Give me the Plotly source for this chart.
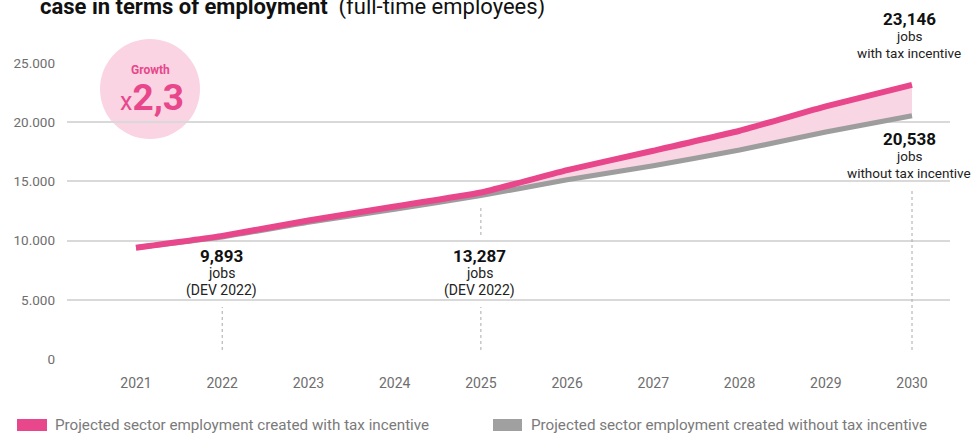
import plotly.graph_objects as go

# ---- data -------------------------------------------------------------
years = [2021, 2022, 2023, 2024, 2025, 2026, 2027, 2028, 2029, 2030]
with_incentive = [9400, 10400, 11700, 12880, 14060, 15950, 17590, 19280, 21330, 23146]
without_incentive = [9400, 10300, 11550, 12650, 13800, 15140, 16320, 17650, 19170, 20538]

y_ticks = [0, 5000, 10000, 15000, 20000, 25000]

ref_years = [2022, 2025]
ref_values = ["9,893", "13,287"]
ref_source = "(DEV 2022)"

end_with_label = "23,146"
end_without_label = "20,538"
growth_label = "2,3"

legend_labels = [
    "Projected sector employment created with tax incentive",
    "Projected sector employment created without tax incentive",
]

# ---- style ------------------------------------------------------------
PINK = "#e8478b"
PINK_FILL = "#f9d6e4"
CIRCLE = "#fad4e3"
GREY = "#9d9d9d"
GRID = "#d9d9d9"
TICK = "#6e6e6e"
FONT = "Roboto, Liberation Sans, sans-serif"

W, H = 971, 435
L, R, T, B = 67, 950, 63, 359


def px(x):
    return (x - L) / (R - L)


def py(y):
    return (B - y) / (B - T)


fig = go.Figure()

# band between the two projections
fig.add_trace(go.Scatter(x=years, y=without_incentive, mode="lines",
                         line=dict(width=0, color=GREY, shape="spline", smoothing=0.4),
                         hoverinfo="skip", showlegend=False))
fig.add_trace(go.Scatter(x=years, y=with_incentive, mode="lines",
                         line=dict(width=0, color=PINK, shape="spline", smoothing=0.4),
                         fill="tonexty", fillcolor=PINK_FILL,
                         hoverinfo="skip", showlegend=False))
# projection lines
fig.add_trace(go.Scatter(x=years, y=without_incentive, mode="lines",
                         line=dict(width=5, color=GREY, shape="spline", smoothing=0.4),
                         name=legend_labels[1], showlegend=False))
fig.add_trace(go.Scatter(x=years, y=with_incentive, mode="lines",
                         line=dict(width=6, color=PINK, shape="spline", smoothing=0.4),
                         name=legend_labels[0], showlegend=False))

shapes = []
annotations = []

# growth bubble
cx, cy, r = 150, 89, 50
shapes.append(dict(type="circle", xref="paper", yref="paper", layer="below",
                   x0=px(cx - r), x1=px(cx + r), y0=py(cy + r), y1=py(cy - r),
                   fillcolor=CIRCLE, line=dict(width=0)))
annotations.append(dict(xref="paper", yref="paper", x=px(cx), y=py(70),
                        xanchor="center", yanchor="middle",
                        text="<b>Growth</b>", showarrow=False,
                        font=dict(family=FONT, size=12, color=PINK)))
annotations.append(dict(xref="paper", yref="paper", x=px(cx + 2), y=py(97),
                        xanchor="center", yanchor="middle",
                        text="<span style='font-size:25px;font-weight:400'>x</span><b>" + growth_label + "</b>",
                        showarrow=False,
                        font=dict(family=FONT, size=37, color=PINK, weight=900)))

# dotted leader lines
dot = dict(color="#aaaaaa", width=1, dash="dot")
shapes.append(dict(type="line", xref="x", yref="paper", x0=ref_years[0], x1=ref_years[0],
                   y0=py(350), y1=py(307), line=dot))
shapes.append(dict(type="line", xref="x", yref="paper", x0=ref_years[1], x1=ref_years[1],
                   y0=py(350), y1=py(307), line=dot))
shapes.append(dict(type="line", xref="x", yref="paper", x0=ref_years[1], x1=ref_years[1],
                   y0=py(235), y1=py(205), line=dot))
shapes.append(dict(type="line", xref="x", yref="paper", x0=years[-1], x1=years[-1],
                   y0=py(350), y1=py(190), line=dot))


def label_block(xval, y_top, value, lines, dx=0, size=14):
    annotations.append(dict(xref="x", yref="paper", x=xval, y=py(y_top), xshift=dx,
                            xanchor="center", yanchor="middle",
                            text="<b>" + value + "</b>", showarrow=False,
                            font=dict(family=FONT, size=17, color="#111111", weight=900)))
    for i, t in enumerate(lines):
        annotations.append(dict(xref="x", yref="paper", x=xval, y=py(y_top + 17 * (i + 1)),
                                xshift=dx, xanchor="center", yanchor="middle",
                                text=t, showarrow=False,
                                font=dict(family=FONT, size=size, color="#222222")))


for yr, v in zip(ref_years, ref_values):
    label_block(yr, 256, v, ["jobs", ref_source], dx=-1)
label_block(years[-1], 19, end_with_label, ["jobs", "with tax incentive"], dx=-3, size=13.5)
label_block(years[-1], 139, end_without_label, ["jobs", "without tax incentive"], dx=-3, size=13.5)

# title (partly above the page)
annotations.append(dict(xref="paper", yref="paper", x=px(38), xanchor="left",
                        y=py(7), yanchor="middle",
                        text="<b>case in terms of employment</b>  (full-time employees)",
                        showarrow=False,
                        font=dict(family=FONT, size=22, color="#111111")))

# legend
for (x0, x1, col, lab, tx) in [(17, 47, PINK, legend_labels[0], 53),
                               (493, 522, "#a0a0a0", legend_labels[1], 529)]:
    shapes.append(dict(type="rect", xref="paper", yref="paper",
                       x0=px(x0), x1=px(x1), y0=py(431), y1=py(419),
                       fillcolor=col, line=dict(width=0)))
    annotations.append(dict(xref="paper", yref="paper", x=px(tx), xanchor="left",
                            y=py(425), yanchor="middle", text=lab, showarrow=False,
                            font=dict(family=FONT, size=15.2, color="#7a7a7a")))

x_left = years[0] - (136 - L) / ((912 - 136) / 9)
x_right = years[-1] + (R - 912) / ((912 - 136) / 9)

fig.update_layout(
    width=W, height=H,
    margin=dict(l=L, r=W - R, t=T, b=H - B, pad=0),
    paper_bgcolor="white", plot_bgcolor="white",
    separators=",.",
    shapes=shapes, annotations=annotations,
    showlegend=False,
    xaxis=dict(range=[x_left, x_right], tickmode="array", tickvals=years,
               ticktext=[str(y) for y in years], showgrid=False, zeroline=False,
               showline=False, ticks="", ticklabelstandoff=14,
               tickfont=dict(family=FONT, size=14, color=TICK), fixedrange=True),
    yaxis=dict(range=[0, 25000], tickmode="array", tickvals=y_ticks, tickformat=",d",
               showgrid=True, gridcolor=GRID, gridwidth=1.5, zeroline=False,
               showline=False, ticks="", ticklabelstandoff=11,
               tickfont=dict(family=FONT, size=13.5, color=TICK), fixedrange=True),
)

fig.write_html("out.html")
